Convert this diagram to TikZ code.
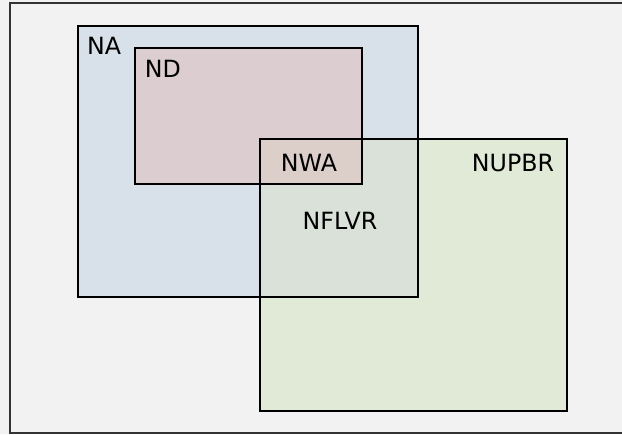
\documentclass[tikz,border=0pt]{standalone}
\usepackage{fontspec}
\setmainfont{DejaVu Sans}
\usetikzlibrary{positioning}
\definecolor{bgcol}{HTML}{F2F2F2}
\definecolor{nacol}{HTML}{D8E0E9}
\definecolor{ndcol}{HTML}{DCCDD0}
\definecolor{nupbrcol}{HTML}{E1E9D7}
\definecolor{nflvrcol}{HTML}{D9E1D9}
\definecolor{nwacol}{HTML}{DCCEC9}
\tikzset{
	every node/.append style={align=center, inner sep=0pt, font=\fontsize{13.5}{16}\selectfont},
	set/.style={draw=black, line width=0.05cm},
	frame/.style={draw=black!80, line width=0.04cm}
}
\begin{document}
\begin{tikzpicture}[x=0.02cm, y=-0.02cm]

	\useasboundingbox (0,0) rectangle (622,434);
	\fill[bgcol] (0,0) rectangle (622,434);
	\draw[frame] (623,3) -- (10,3) -- (10,433) -- (623,433);

	% areas
	\fill[nacol] (78,26) rectangle (418,297);
	\fill[ndcol] (135,48) rectangle (362,184);
	\fill[nupbrcol] (260,139) rectangle (567,411);
	\fill[nflvrcol] (260,139) rectangle (418,297);
	\fill[nwacol] (260,139) rectangle (362,184);

	% borders
	\draw[set] (78,26) rectangle (418,297);
	\draw[set] (135,48) rectangle (362,184);
	\draw[set] (260,139) rectangle (567,411);

	\node (na) at (104,46) {NA};
	\node (nd) at (163,69) {ND};
	\node (nwa) at (309,163) {NWA};
	\node (nflvr) at (340,221) {NFLVR};
	\node (nupbr) at (513,163) {NUPBR};

\end{tikzpicture}
\end{document}
